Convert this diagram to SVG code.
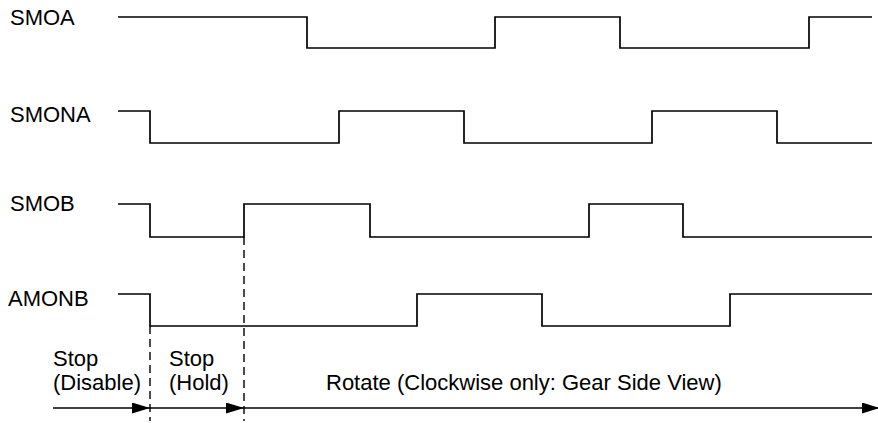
<svg xmlns="http://www.w3.org/2000/svg" width="878" height="423" viewBox="0 0 878 423">
<defs>
<style>
.sig{fill:none;stroke:#000;stroke-width:1.7;stroke-linejoin:miter}
.dash{fill:none;stroke:#000;stroke-width:1.4;stroke-dasharray:8,5}
.arr{fill:none;stroke:#000;stroke-width:1.5}
text{font-family:"Liberation Sans",Arial,sans-serif;font-size:22px;fill:#000}
</style>
<marker id="ah" markerWidth="18" markerHeight="11" refX="18" refY="5.5" orient="auto" markerUnits="userSpaceOnUse">
<path d="M0,0 L18,5.5 L0,11 Z" fill="#000"/>
</marker>
</defs>
<rect width="878" height="423" fill="#fff"/>
<g id="SMOA">
<text x="10" y="25">SMOA</text>
<path class="sig" d="M118,17 H307 V48 H495 V17 H620 V48 H809 V17 H872"/>
</g>
<g id="SMONA">
<text x="10" y="122">SMONA</text>
<path class="sig" d="M118,111 H150 V143 H339 V111 H464 V143 H652 V111 H777 V143 H872"/>
</g>
<g id="SMOB">
<text x="10" y="211">SMOB</text>
<path class="sig" d="M118,204 H150 V237 H244 V204 H370 V237 H589 V204 H683 V237 H872"/>
</g>
<g id="AMONB">
<text x="8" y="306">AMONB</text>
<path class="sig" d="M118,294 H150 V326 H417 V294 H542 V326 H730 V294 H872"/>
</g>
<g id="phases">
<text x="53" y="366">Stop</text>
<text x="53" y="390">(Disable)</text>
<text x="169" y="366">Stop</text>
<text x="169" y="390">(Hold)</text>
<text x="326" y="390">Rotate (Clockwise only: Gear Side View)</text>
</g>
<g id="connectors">
<line class="dash" x1="150" y1="326" x2="150" y2="421"/>
<line class="dash" x1="244" y1="237" x2="244" y2="421"/>
<line class="arr" x1="53" y1="408" x2="150" y2="408" marker-end="url(#ah)"/>
<line class="arr" x1="150" y1="408" x2="244" y2="408" marker-end="url(#ah)"/>
<line class="arr" x1="244" y1="408" x2="880" y2="408" marker-end="url(#ah)"/>
</g>
</svg>
